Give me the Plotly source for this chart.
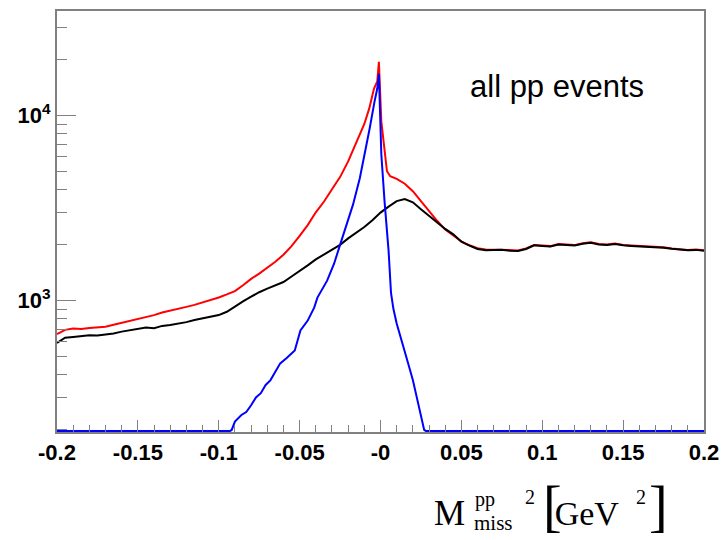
import plotly.graph_objects as go

# ---------------- data ----------------
RED_X = [-0.200, -0.195, -0.190, -0.185, -0.180, -0.175, -0.170, -0.165, -0.160, -0.155,
         -0.150, -0.145, -0.140, -0.135, -0.130, -0.125, -0.120, -0.115, -0.110, -0.105,
         -0.100, -0.095, -0.090, -0.085, -0.080, -0.075, -0.070, -0.065, -0.060, -0.055,
         -0.050, -0.045, -0.040, -0.035, -0.030, -0.025, -0.020, -0.015, -0.010, -0.007,
         -0.004, -0.002, -0.001, 0.0005, 0.0025, 0.004, 0.006, 0.010, 0.015, 0.020,
         0.025, 0.030, 0.035, 0.040, 0.045, 0.050, 0.055, 0.060, 0.065, 0.070,
         0.075, 0.080, 0.085, 0.090, 0.095, 0.100, 0.105, 0.110, 0.115, 0.120,
         0.125, 0.130, 0.135, 0.140, 0.145, 0.150, 0.155, 0.160, 0.165, 0.170,
         0.175, 0.180, 0.185, 0.190, 0.195, 0.200]
RED_Y = [660, 695, 706, 702, 712, 716, 722, 740, 758, 775,
         800, 815, 835, 862, 885, 905, 925, 948, 975, 1005,
         1040, 1080, 1125, 1210, 1310, 1400, 1500, 1620, 1770, 1970,
         2240, 2560, 3000, 3420, 4000, 4650, 5650, 7100, 9000, 10900,
         14000, 15300, 19500, 9300, 6400, 5000, 4700, 4550, 4280, 3900,
         3450, 3050, 2700, 2420, 2250, 2090, 1990, 1920, 1890, 1885,
         1895, 1875, 1865, 1915, 2000, 1990, 1970, 2020, 2010, 1995,
         2040, 2065, 2020, 2010, 2035, 2000, 1985, 1975, 1960, 1950,
         1940, 1915, 1900, 1880, 1890, 1870]

BLACK_X = [-0.200, -0.195, -0.190, -0.185, -0.180, -0.175, -0.170, -0.165, -0.160, -0.155,
           -0.150, -0.145, -0.140, -0.135, -0.130, -0.125, -0.120, -0.115, -0.110, -0.105,
           -0.100, -0.095, -0.090, -0.085, -0.080, -0.075, -0.070, -0.065, -0.060, -0.055,
           -0.050, -0.045, -0.040, -0.035, -0.030, -0.025, -0.020, -0.015, -0.010, -0.005,
           0.000, 0.005, 0.010, 0.015, 0.020, 0.025, 0.030, 0.035, 0.040, 0.045,
           0.050, 0.055, 0.060, 0.065, 0.070, 0.075, 0.080, 0.085, 0.090, 0.095,
           0.100, 0.105, 0.110, 0.115, 0.120, 0.125, 0.130, 0.135, 0.140, 0.145,
           0.150, 0.155, 0.160, 0.165, 0.170, 0.175, 0.180, 0.185, 0.190, 0.195, 0.200]
BLACK_Y = [590, 630, 636, 641, 650, 648, 655, 665, 680, 690,
           705, 716, 710, 730, 738, 750, 765, 785, 800, 815,
           835, 870, 930, 990, 1050, 1110, 1160, 1210, 1260, 1350,
           1440, 1550, 1670, 1780, 1880, 2000, 2170, 2320, 2500, 2720,
           2990, 3220, 3450, 3540, 3400, 3120, 2870, 2640, 2440, 2280,
           2080, 1980, 1900, 1870, 1870, 1885, 1860, 1855, 1900, 1990,
           1975, 1960, 2010, 2000, 1985, 2030, 2055, 2010, 2000, 2025,
           1990, 1975, 1965, 1950, 1940, 1930, 1905, 1890, 1870, 1880, 1860]

# 0 = empty bin (drawn on the axis floor, as ROOT does)
BLUE_X = [-0.200, -0.093, -0.092, -0.090, -0.086, -0.083, -0.080, -0.077, -0.074, -0.071,
          -0.068, -0.065, -0.062, -0.058, -0.053, -0.0495, -0.045, -0.041, -0.039, -0.033,
          -0.0287, -0.025, -0.0208, -0.017, -0.0128, -0.010, -0.0067, -0.0037, -0.002, -0.001,
          0.0005, 0.0025, 0.005, 0.0065, 0.008, 0.010, 0.013, 0.016, 0.020, 0.024,
          0.027, 0.028, 0.200]
BLUE_Y = [0, 0, 200, 222, 241, 250, 272, 300, 316, 350,
          372, 410, 458, 490, 538, 690, 780, 916, 1038, 1282,
          1583, 2000, 2592, 3300, 4585, 6000, 8510, 11900, 14000, 16800,
          6200, 3450, 1856, 1100, 900, 752, 600, 494, 372, 266,
          200, 0, 0]

X_TICKS = [-0.2, -0.15, -0.1, -0.05, 0.0, 0.05, 0.1, 0.15, 0.2]
X_TICK_TEXT = ["-0.2", "-0.15", "-0.1", "-0.05", "-0", "0.05", "0.1", "0.15", "0.2"]
Y_TICKS = [1000, 10000]
Y_TICK_TEXT = ["10<sup>3</sup>", "10<sup>4</sup>"]
Y_MINOR = [200, 300, 400, 500, 600, 700, 800, 900,
           2000, 3000, 4000, 5000, 6000, 7000, 8000, 9000, 20000, 30000]

LOG_MIN, LOG_MAX = 2.29, 4.565
floor_val = 10 ** (LOG_MIN + 0.006)
blue_plot = [v if v > 0 else floor_val for v in BLUE_Y]

fig = go.Figure()
fig.add_trace(go.Scatter(x=RED_X, y=RED_Y, mode="lines",
                         line=dict(color="#ff0000", width=2)))
fig.add_trace(go.Scatter(x=BLACK_X, y=BLACK_Y, mode="lines",
                         line=dict(color="#000000", width=2)))
fig.add_trace(go.Scatter(x=BLUE_X, y=blue_plot, mode="lines",
                         line=dict(color="#0000ff", width=2)))

axis_line = "#808080"
fig.update_layout(
    width=728, height=540,
    margin=dict(l=57, r=17, t=9, b=108),
    paper_bgcolor="white", plot_bgcolor="white",
    showlegend=False,
    xaxis=dict(range=[-0.2, 0.2], showgrid=False, zeroline=False,
               showline=True, linecolor=axis_line, linewidth=2, mirror=True,
               tickmode="array", tickvals=X_TICKS, ticktext=X_TICK_TEXT,
               ticks="inside", ticklen=12, tickwidth=1, tickcolor=axis_line,
               tickfont=dict(family="Liberation Sans", size=22, color="black", weight="bold"),
               minor=dict(dtick=0.01, tick0=0, ticks="inside", ticklen=7,
                          tickwidth=1, tickcolor=axis_line, showgrid=False)),
    yaxis=dict(type="log", range=[LOG_MIN, LOG_MAX], showgrid=False, zeroline=False,
               showline=True, linecolor=axis_line, linewidth=2, mirror=True,
               tickmode="array", tickvals=Y_TICKS, ticktext=Y_TICK_TEXT,
               ticks="inside", ticklen=19, tickwidth=1, tickcolor=axis_line,
               tickfont=dict(family="Liberation Sans", size=22, color="black", weight="bold"),
               minor=dict(tickmode="array", tickvals=Y_MINOR, ticks="inside", ticklen=10,
                          tickwidth=1, tickcolor=axis_line, showgrid=False)),
)

# in-plot label
fig.add_annotation(text="all pp events", xref="paper", yref="paper",
                   x=(562 - 57) / 654, y=(432 - 85) / 423, showarrow=False,
                   xanchor="center", yanchor="middle",
                   font=dict(family="Liberation Serif" if False else "Liberation Sans", size=31, color="black"))

# axis title: M_miss^pp ^2 [GeV ^2]
def px_ann(text, px, py, size, anchor="left", yanchor="middle"):
    fig.add_annotation(text=text, xref="paper", yref="paper",
                       x=(px - 57) / 654, y=(432 - py) / 423, showarrow=False,
                       xanchor=anchor, yanchor=yanchor, borderpad=0,
                       font=dict(family="Liberation Serif", size=size, color="black"))

px_ann("M", 437, 514, 35)
px_ann("pp", 479, 500, 20)
px_ann("miss", 478, 523, 21)
px_ann("2", 529, 497, 20)
px_ann('<span style="font-size:56px;letter-spacing:-7px">[</span>GeV', 547, 539, 34, yanchor="bottom")
px_ann("2", 641, 497, 20)
px_ann("]", 654, 539, 56, yanchor="bottom")

fig.write_html("out.html")
